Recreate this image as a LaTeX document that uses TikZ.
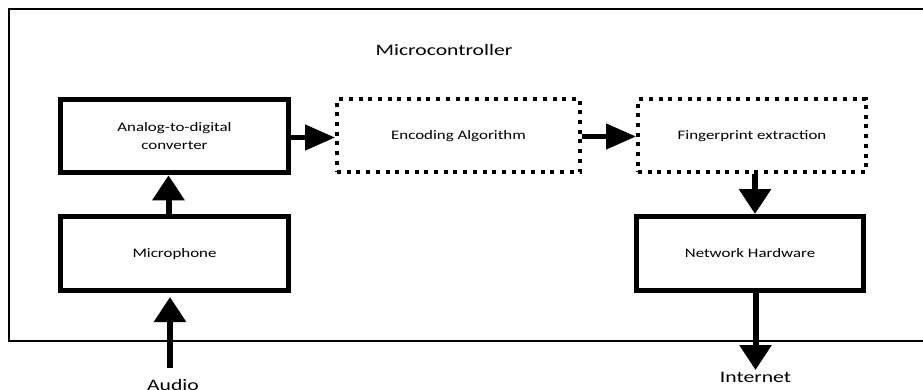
\documentclass[tikz,border=0pt]{standalone}
\usepackage{fontspec}
\setmainfont{Carlito}
\usepackage{graphicx}
\usetikzlibrary{arrows.meta,calc}
\newcommand{\stretchtxt}[1]{\scalebox{1.3}[1]{#1}}
\newcommand{\bigstretch}[1]{\scalebox{1.35}[1]{#1}}
\tikzset{
  boxfont/.style={font=\fontsize{13}{18}\selectfont},
  oneline/.style={text height=8.4pt, text depth=0pt},
  solidbox/.style={draw, line width=5pt, minimum width=228pt, minimum height=73.5pt,
    inner sep=0pt, boxfont, align=center},
  dotbox/.style={draw, line width=4pt, dash pattern=on 4pt off 5.7pt,
    minimum height=73pt, inner sep=0pt, boxfont, align=center},
  harr/.style={line width=4.5pt, -{Triangle[length=30pt,width=25pt]}},
  varr/.style={line width=6pt, -{Triangle[length=25pt,width=31pt]}},
  frameline/.style={line width=2pt},
  bigtext/.style={font=\fontsize{16}{19}\selectfont, inner sep=0pt, anchor=base}
}
\begin{document}
\begin{tikzpicture}[x=1pt,y=-1pt]
\useasboundingbox (0,0) rectangle (923,389);
% outer frame (right side lies beyond the picture)
\draw[frameline] (923,8.5) -- (8.5,8.5) -- (8.5,340.5) -- (923,340.5);
\node[bigtext] (mc) at (444,55) {\bigstretch{Microcontroller}};

\node[solidbox] (adc) at (174.5,136) {\stretchtxt{Analog-to-digital}\\\stretchtxt{converter}};
\node[dotbox, oneline, minimum width=243pt] (enc) at (458.5,135.5) {\stretchtxt{Encoding Algorithm}};
\node[dotbox, oneline, minimum width=228pt] (fp) at (752,135.5) {\stretchtxt{Fingerprint extraction}};
\node[solidbox, oneline, minimum height=74pt] (mic) at (174.5,253.5) {\stretchtxt{Microphone}};
\node[solidbox, oneline, minimum width=227pt, minimum height=74pt] (net) at (750,253.5) {\stretchtxt{Network Hardware}};

\node[bigtext] (audio) at (173,390) {\bigstretch{Audio}};
\node[bigtext] (inet) at (755.5,382) {\bigstretch{Internet}};
\coordinate (audiostart) at (170,368);
\coordinate (inetend) at (755.5,370);

\draw[harr] ([yshift=-1.5pt]adc.east) -- ([yshift=-1.5pt]adc.east -| enc.west);
\draw[harr] ([yshift=-1pt]enc.east) -- ([yshift=-1pt]enc.east -| fp.west);
\draw[varr] ([xshift=-6pt]mic.north) -- ([xshift=-6pt]adc.south);
\draw[varr] (audiostart) -- ($(audiostart |- mic.south)+(0,4)$);
\draw[varr] ([xshift=3pt]fp.south) -- ([xshift=5pt]net.north);
\draw[varr] ([xshift=5.5pt,yshift=3pt]net.south) -- (inetend);
\end{tikzpicture}
\end{document}
